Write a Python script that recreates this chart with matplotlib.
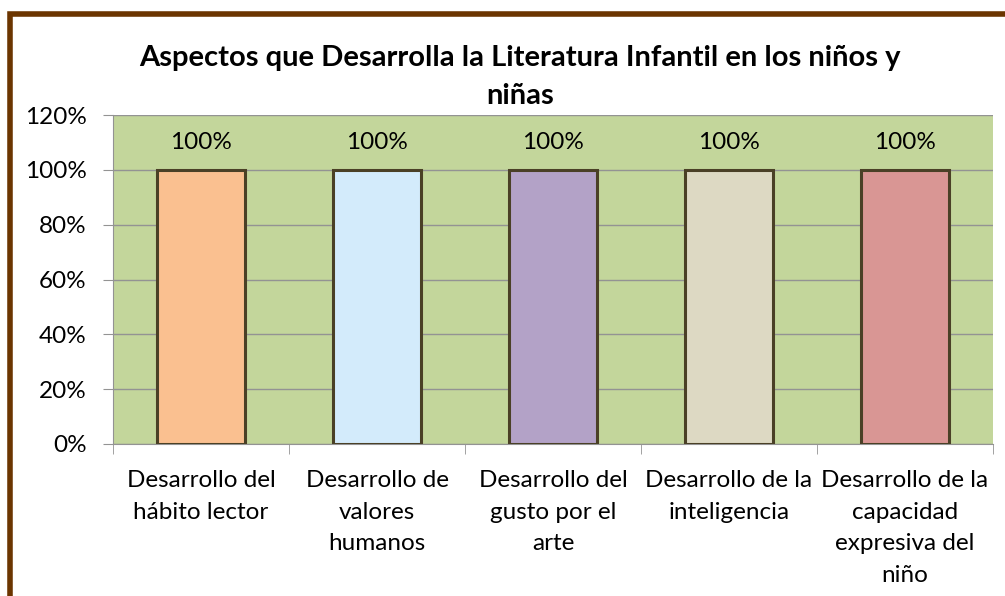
import numpy as np
import matplotlib
matplotlib.use('Agg')
import matplotlib.pyplot as plt
from matplotlib.patches import Rectangle
from matplotlib.ticker import FuncFormatter, FixedLocator

plt.rcParams['font.family'] = ['Lato', 'DejaVu Sans']

categorias = ['Desarrollo del\nhábito lector', 'Desarrollo de\nvalores\nhumanos',
              'Desarrollo del\ngusto por el\narte', 'Desarrollo de la\ninteligencia',
              'Desarrollo de la\ncapacidad\nexpresiva del\nniño']
valores = [1.0, 1.0, 1.0, 1.0, 1.0]
colores = ['#FAC090', '#D3EBFB', '#B3A2C7', '#DDD9C3', '#D99694']

fig = plt.figure(figsize=(10.05, 5.96), dpi=100)
ax = fig.add_axes([113/1005, 1 - 444/596, 880/1005, 329/596])
ax.set_facecolor('#C3D69B')

x = np.arange(len(categorias))
bars = ax.bar(x, valores, width=0.5, color=colores, edgecolor='#4A4026', linewidth=2.2, zorder=3)
for b, v in zip(bars, valores):
    ax.text(b.get_x() + b.get_width()/2, v + 0.1, f'{v:.0%}', ha='center', va='center',
            fontsize=17.5, color='black')

ax.set_xlim(-0.5, len(categorias) - 0.5)
ax.set_ylim(0, 1.2)
ax.set_yticks(np.arange(0, 1.21, 0.2))
ax.yaxis.set_major_formatter(FuncFormatter(lambda v, p: f'{v:.0%}'))
ax.grid(axis='y', color='#939393', linewidth=1, zorder=1)

ax.set_xticks(x)
ax.set_xticklabels(categorias, fontsize=17.5, linespacing=1.62)
ax.tick_params(axis='x', length=0, pad=19)
ax.xaxis.set_minor_locator(FixedLocator(np.arange(-0.5, len(categorias), 1)))
ax.tick_params(axis='x', which='minor', length=7, color='#939393')
ax.tick_params(axis='y', length=7, color='#939393', labelsize=17.5, pad=12)
for lab in ax.get_xticklabels():
    lab.set_verticalalignment('top')

for s in ['top', 'right']:
    ax.spines[s].set_visible(False)
ax.spines['left'].set_color('#939393')
ax.spines['bottom'].set_color('#939393')

fig.text(520/1005, 1 - 77/596, 'Aspectos que Desarrolla la Literatura Infantil en los niños y\nniñas',
         ha='center', va='center', fontsize=21, fontweight='bold', linespacing=1.55)

# marco marrón
fig.patches.append(Rectangle((10/1005, -0.2), 1.2, 1.2 - 14/596, transform=fig.transFigure,
                             fill=False, edgecolor='#6B3500', linewidth=4, clip_on=False))

fig.savefig('out.png', dpi=100)
